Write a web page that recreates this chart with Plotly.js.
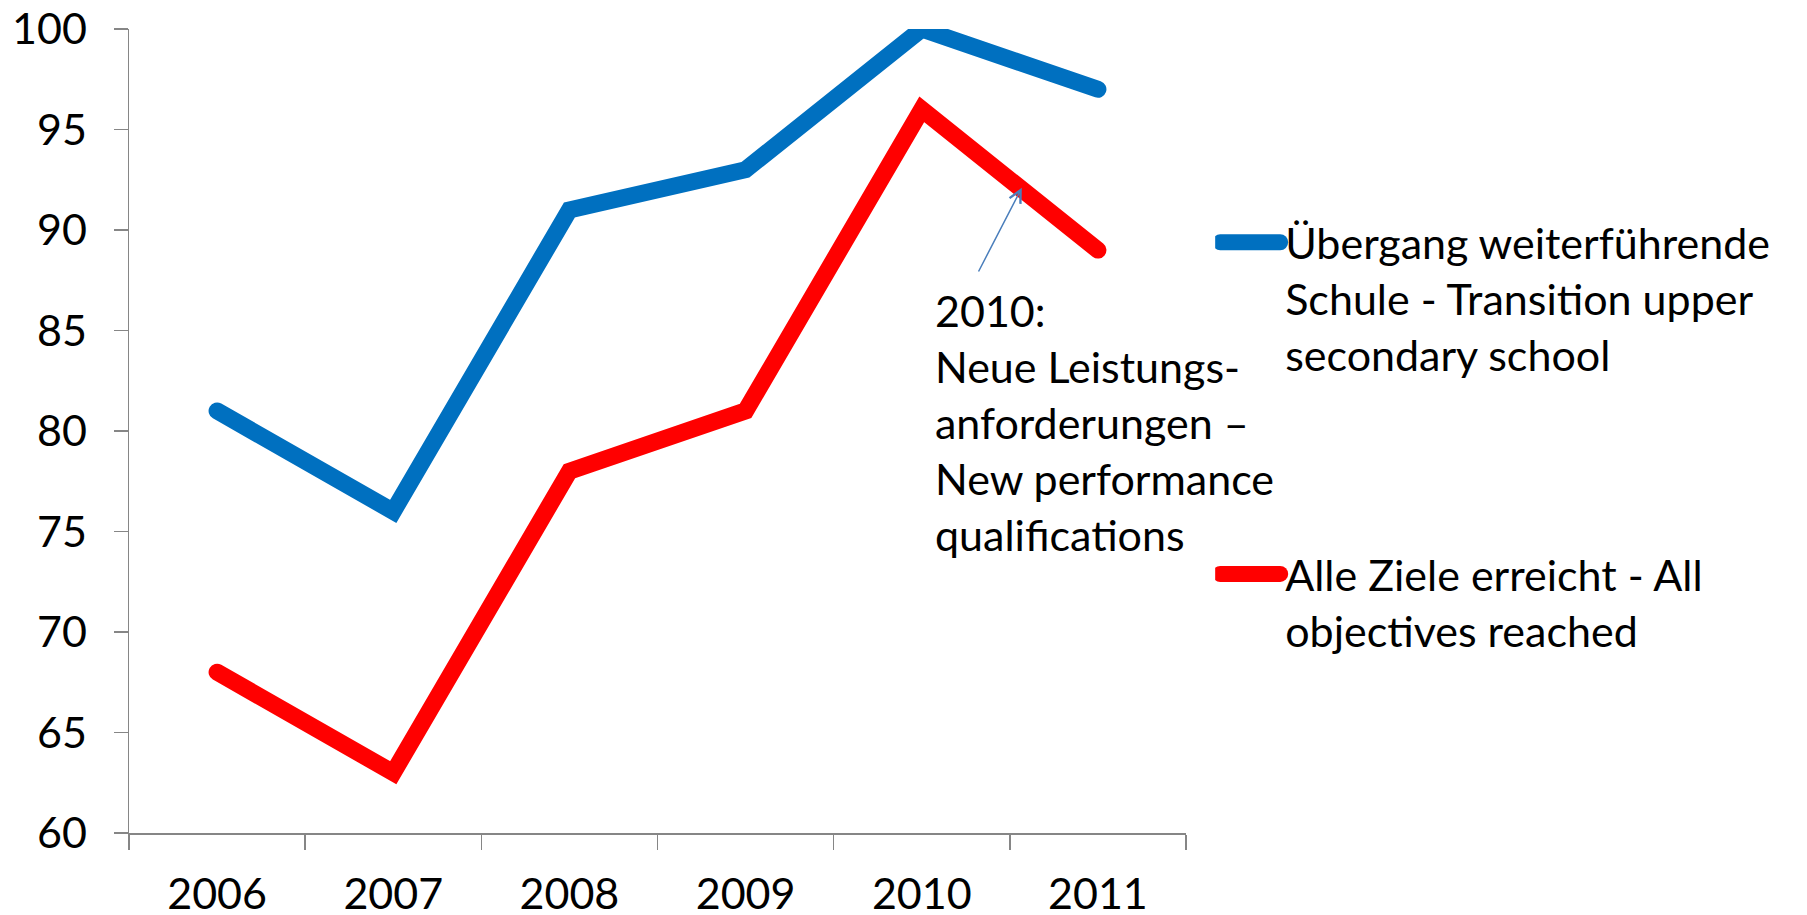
<!DOCTYPE html>
<html>
<head>
<meta charset="utf-8">
<script src="https://cdn.plot.ly/plotly-3.0.1.min.js"></script>
<style>
html, body { margin: 0; padding: 0; background: #fff; }
#chart { width: 1807px; height: 915px; }
.scatterlayer .js-line { stroke-linecap: round; }
.legend .legendlines path { stroke-linecap: round; stroke-width: 16px !important; }
</style>
</head>
<body>
<div id="chart"></div>
<script>
const years = ['2006', '2007', '2008', '2009', '2010', '2011'];
const transitionValues = [81, 76, 91, 93, 100, 97];
const objectivesValues = [68, 63, 78, 81, 96, 89];
const seriesNames = [
  'Übergang weiterführende<br>Schule - Transition upper<br>secondary school',
  'Alle Ziele erreicht - All<br>objectives reached'
];
const yTicks = [60, 65, 70, 75, 80, 85, 90, 95, 100];
const noteText = '2010:<br>Neue Leistungs-<br>anforderungen –<br>New performance<br>qualifications';

const FONT = 'Lato, "Open Sans", sans-serif';
const AXIS = '#868686';

const traces = [
  {
    x: years, y: transitionValues, name: seriesNames[0], type: 'scatter', mode: 'lines',
    line: { color: '#0070C0', width: 17 }, cliponaxis: false, legendgroup: 'a'
  },
  {
    x: years, y: objectivesValues, name: seriesNames[1], type: 'scatter', mode: 'lines',
    line: { color: '#FF0000', width: 17 }, cliponaxis: false, legendgroup: 'b'
  }
];

const layout = {
  width: 1807, height: 915,
  margin: { l: 129, r: 621, t: 29, b: 82 },
  paper_bgcolor: '#ffffff', plot_bgcolor: '#ffffff',
  font: { family: FONT, size: 43, color: '#000000' },
  showlegend: true,
  legend: {
    x: 1.0276, xanchor: 'left', y: 0.7776, yanchor: 'top', valign: 'top',
    font: { family: FONT, size: 43, color: '#000' },
    tracegroupgap: 161, itemwidth: 60, bgcolor: 'rgba(0,0,0,0)'
  },
  xaxis: {
    type: 'category', range: [-0.5, 5.5], showgrid: false, zeroline: false,
    showline: true, linecolor: AXIS, linewidth: 1.5,
    ticks: 'outside', tickson: 'boundaries', ticklen: 15, tickcolor: AXIS, tickwidth: 1.5,
    ticklabelstandoff: 23,
    tickfont: { family: FONT, size: 43, color: '#000' }
  },
  yaxis: {
    range: [60, 100], tickvals: yTicks, showgrid: false, zeroline: false,
    showline: true, linecolor: AXIS, linewidth: 1.5,
    ticks: 'outside', ticklen: 14, tickcolor: AXIS, tickwidth: 1.5,
    ticklabelstandoff: 18,
    tickfont: { family: FONT, size: 43, color: '#000' }
  },
  annotations: [
    {
      x: 4.568, y: 92.1, xref: 'x', yref: 'y',
      ax: 4.318, ay: 87.86, axref: 'x', ayref: 'y',
      text: '', showarrow: true, arrowhead: 5, arrowsize: 1.6, arrowwidth: 1.5,
      arrowcolor: '#4A7EBB'
    },
    {
      x: 0.761, y: 0.684, xref: 'paper', yref: 'paper',
      xanchor: 'left', yanchor: 'top', align: 'left', showarrow: false,
      text: noteText, font: { family: FONT, size: 43, color: '#000' }
    }
  ]
};

Plotly.newPlot('chart', traces, layout, { displayModeBar: false, staticPlot: true });
</script>
</body>
</html>
